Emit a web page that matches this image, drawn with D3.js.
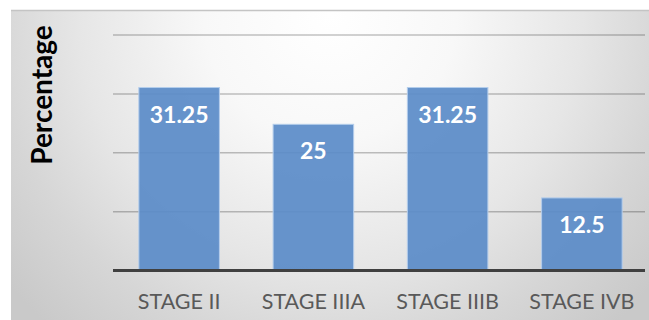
<!DOCTYPE html>
<html>
<head>
<meta charset="utf-8">
<script src="https://cdn.jsdelivr.net/npm/d3@7"></script>
<style>
  html, body { margin: 0; padding: 0; background: #fff; }
  svg { display: block; }
</style>
</head>
<body>
<svg id="chart" width="649" height="320"></svg>
<script>
const categories = ["STAGE II", "STAGE IIIA", "STAGE IIIB", "STAGE IVB"];
const values = [31.25, 25, 31.25, 12.5];
const valueLabels = ["31.25", "25", "31.25", "12.5"];
const gridTicks = [10, 20, 30, 40];
const yTitle = "Percentage";

const W = 649, H = 320;
const svg = d3.select("#chart");

// background gradient
const defs = svg.append("defs");
const rg = defs.append("radialGradient")
  .attr("id", "bg").attr("gradientUnits", "userSpaceOnUse")
  .attr("cx", 330).attr("cy", 15).attr("r", 420);
[[0, "#ffffff"], [0.3, "#f8f8f8"], [0.6, "#e6e6e6"], [0.8, "#d6d6d6"], [1, "#c9c9c9"]]
  .forEach(([o, c]) => rg.append("stop").attr("offset", o).attr("stop-color", c));

svg.append("rect").attr("x", 11).attr("y", 10).attr("width", W - 11).attr("height", H - 10)
  .attr("fill", "url(#bg)");
svg.append("line").attr("x1", 11).attr("x2", W).attr("y1", 10.5).attr("y2", 10.5)
  .attr("stroke", "#c4c4c4").attr("stroke-width", 1.5);

const x = d3.scaleBand().domain(categories).range([112, 649])
  .paddingInner(0.4).paddingOuter(0.2);
const y = d3.scaleLinear().domain([0, 40]).range([270.5, 35]);

// gridlines
svg.append("g").selectAll("line").data(gridTicks).join("line")
  .attr("x1", 113).attr("x2", 645)
  .attr("y1", d => y(d)).attr("y2", d => y(d))
  .attr("stroke", "rgba(0,0,0,0.24)").attr("stroke-width", 1.5);

// bars
svg.append("g").selectAll("rect").data(values).join("rect")
  .attr("x", (d, i) => x(categories[i]))
  .attr("width", x.bandwidth())
  .attr("y", d => y(d) + 1)
  .attr("height", d => y(0) - y(d) - 1)
  .attr("fill", "#5b8cc8").attr("fill-opacity", 0.93)
  .attr("stroke", "#b4cdeb").attr("stroke-width", 1);

// baseline
svg.append("line").attr("x1", 113).attr("x2", 645)
  .attr("y1", y(0)).attr("y2", y(0))
  .attr("stroke", "#404040").attr("stroke-width", 3);

// value labels
svg.append("g").selectAll("text").data(values).join("text")
  .attr("x", (d, i) => x(categories[i]) + x.bandwidth() / 2)
  .attr("y", d => y(d) + 36)
  .attr("text-anchor", "middle")
  .attr("font-family", "Lato, 'Open Sans', sans-serif")
  .attr("font-weight", "bold").attr("font-size", 23)
  .attr("fill", "#ffffff")
  .text((d, i) => valueLabels[i]);

// category labels
svg.append("g").selectAll("text").data(categories).join("text")
  .attr("x", d => x(d) + x.bandwidth() / 2)
  .attr("y", 309)
  .attr("text-anchor", "middle")
  .attr("font-family", "Lato, 'Open Sans', sans-serif")
  .attr("font-size", 21.5)
  .attr("fill", "#595959")
  .text(d => d);

// y title
svg.append("text")
  .attr("transform", "translate(52,95) rotate(-90)")
  .attr("text-anchor", "middle")
  .attr("font-family", "Lato, 'Open Sans', sans-serif")
  .attr("font-weight", "bold").attr("font-size", 28)
  .attr("fill", "#000")
  .text(yTitle);
</script>
</body>
</html>
